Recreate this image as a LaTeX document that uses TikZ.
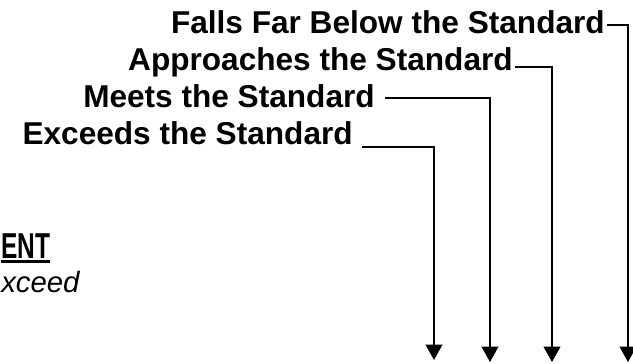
\documentclass[tikz,border=0pt]{standalone}
\usepackage{fontspec}
\setmainfont{Liberation Sans}
\usetikzlibrary{calc,arrows.meta,positioning}
\newcommand{\headrule}[1]{\leavevmode\vtop{\hbox{#1}\kern1.6pt\hrule height 2.2pt}}

\tikzset{
  level/.style={inner sep=0pt,anchor=base east,font=\bfseries\fontsize{23.7}{26}\selectfont},
  link/.style={line width=1.3pt,-{Triangle[width=12.5pt,length=11.5pt]}},
}

\begin{document}
\begin{tikzpicture}[x=0.75pt,y=-0.75pt]
\useasboundingbox (0,0) rectangle (633,364);
% labels of the four levels
\node[level] (fb) at (605,33) {Falls Far Below the Standard};
\node[level] (ap) at (513,70) {Approaches the Standard};
\node[level] (mt) at (375,107) {Meets the Standard};
\node[level] (ex) at (353,144) {Exceeds the Standard};
% heading at the left edge
\node[inner sep=0pt,anchor=base west,font=\bfseries\fontsize{27}{30}\selectfont] (hd) at (1,258) {\headrule{\scalebox{0.68}[1]{ENT}}};
\node[inner sep=0pt,anchor=base west,font=\itshape\fontsize{22}{26}\selectfont] (sub) at (1,292) {xceed};
% arrow ends
\coordinate (fbTip) at (628,362);
\coordinate (apTip) at (552,362);
\coordinate (mtTip) at (490,362);
\coordinate (exTip) at (434,360);
\draw[link] ($(fb.base east)+(2,-8)$) -| (fbTip);
\draw[link] ($(ap.base east)+(2,-3)$) -| (apTip);
\draw[link] ($(mt.base east)+(10,-9)$) -| (mtTip);
\draw[link] ($(ex.base east)+(9,3)$) -| (exTip);
\end{tikzpicture}
\end{document}
